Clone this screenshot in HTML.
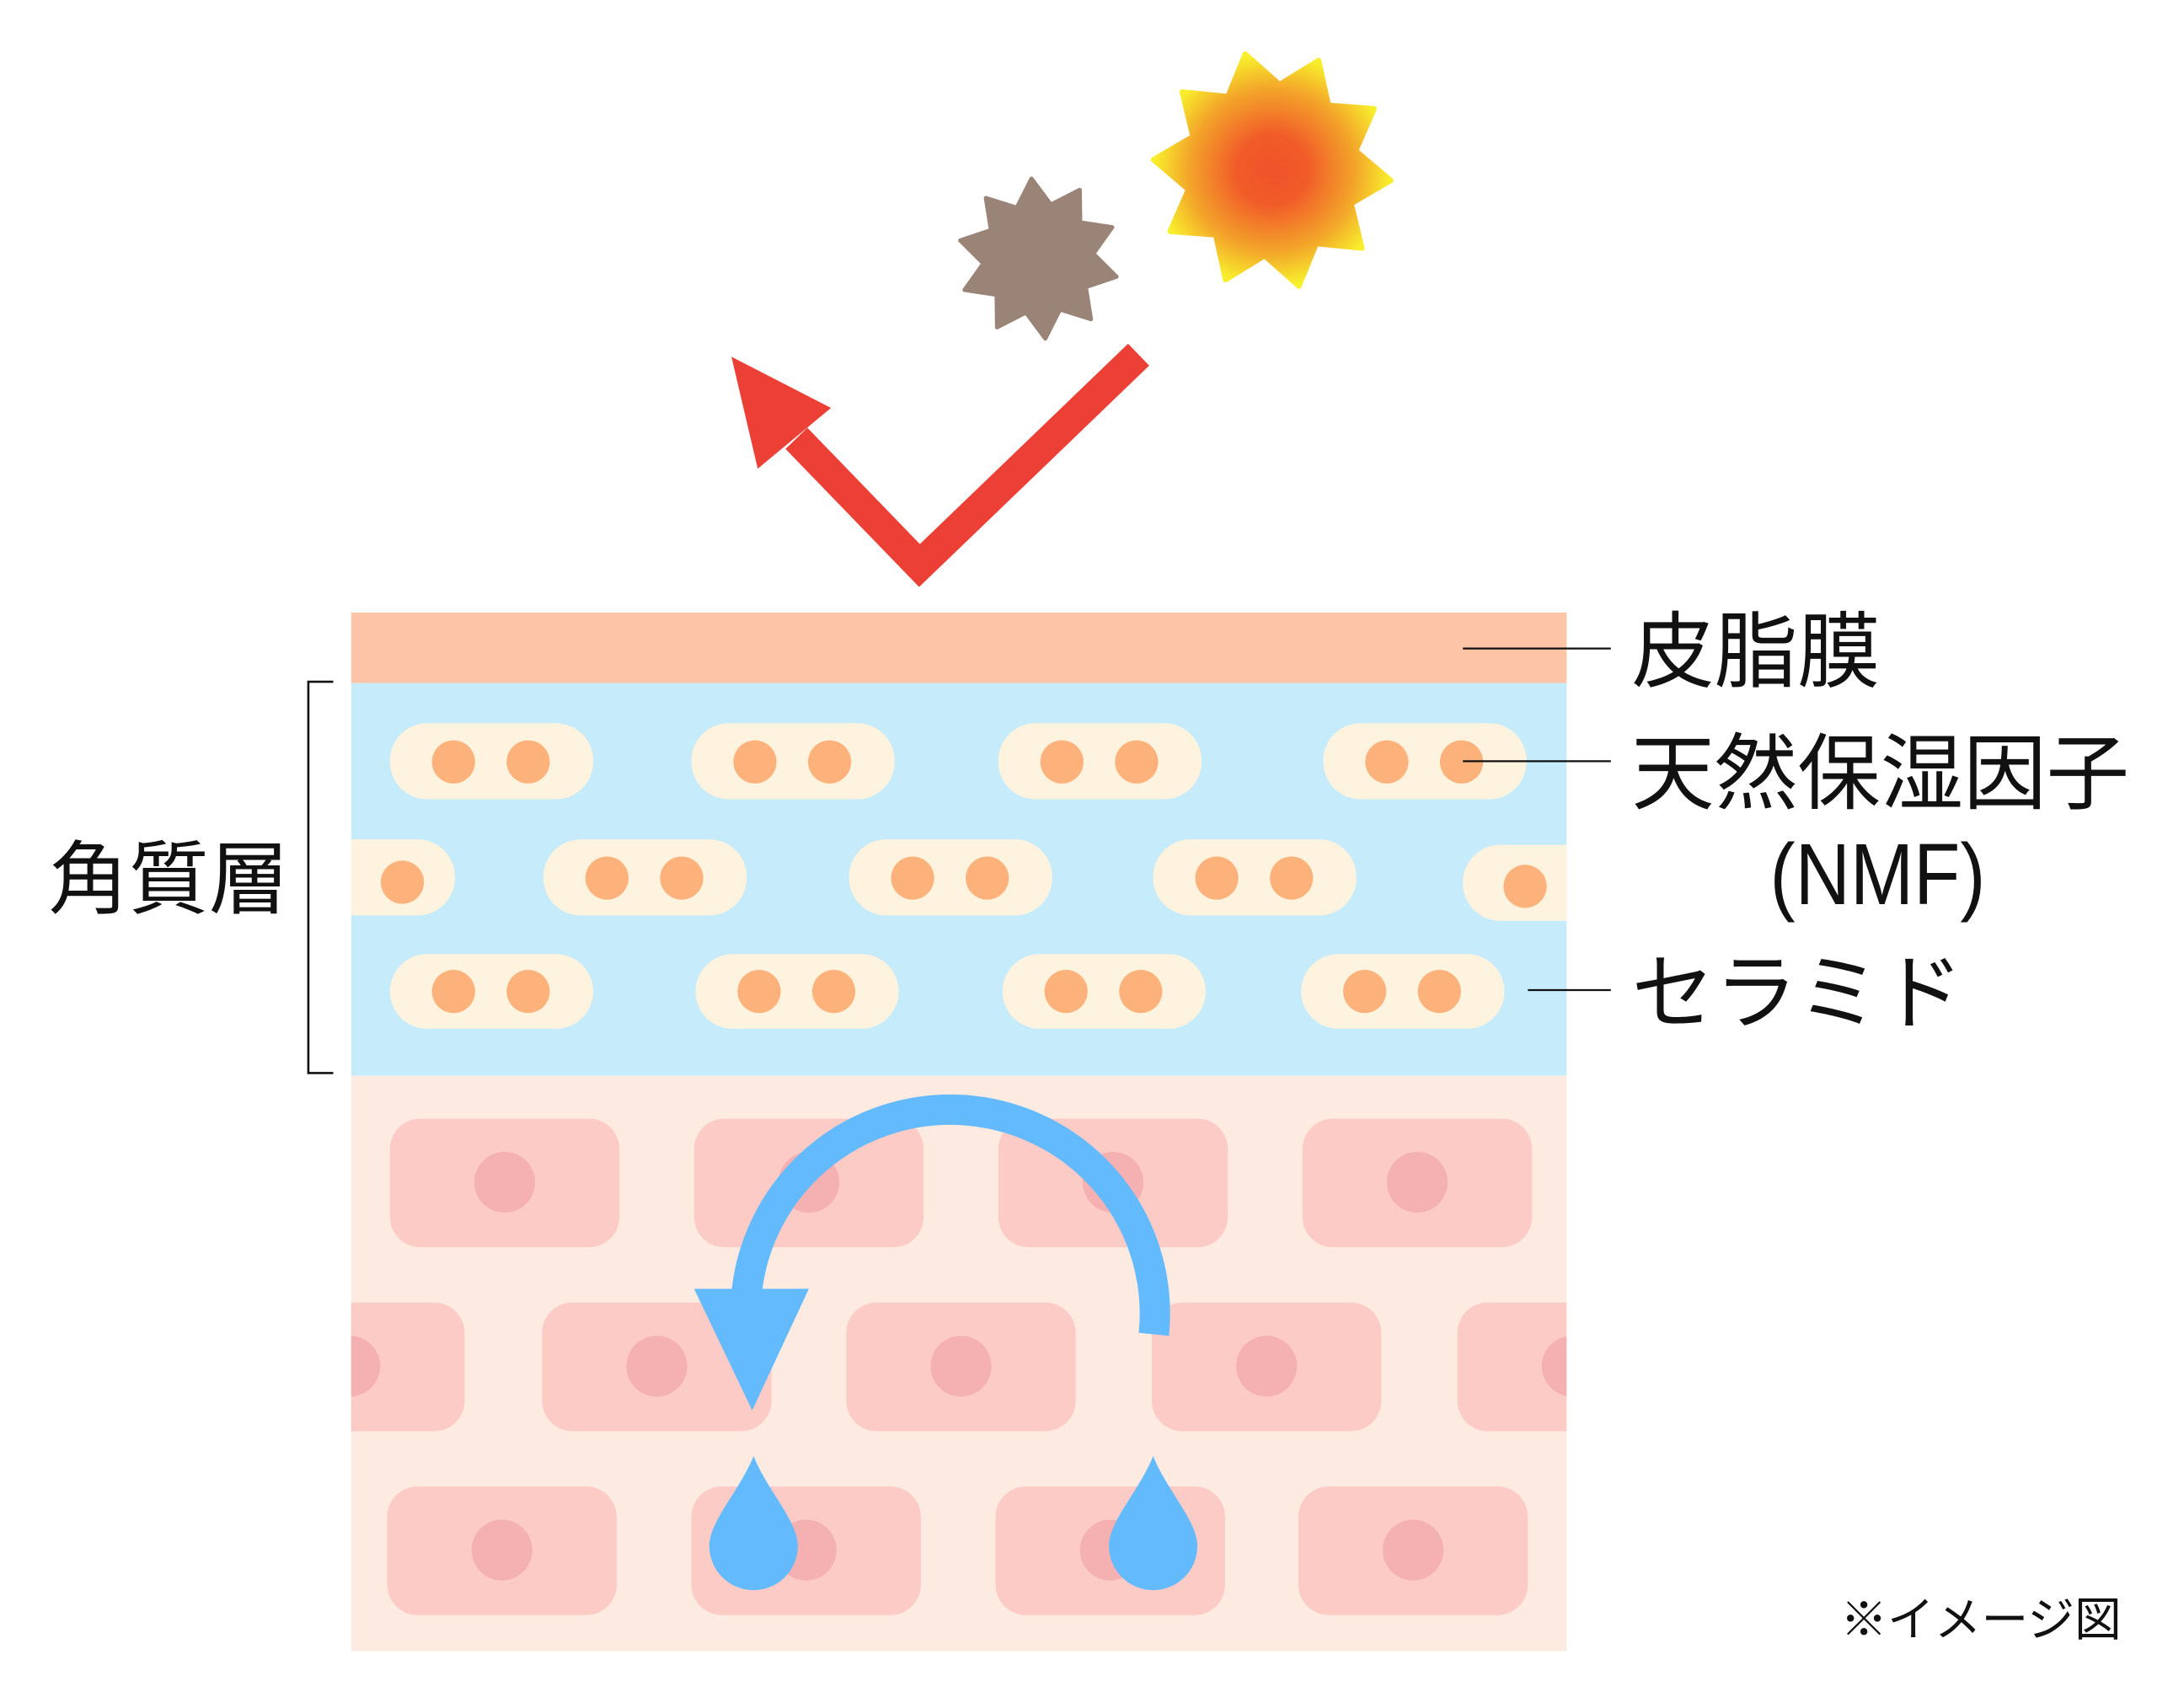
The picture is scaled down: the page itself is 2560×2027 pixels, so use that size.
<!DOCTYPE html>
<html><head><meta charset="utf-8"><style>
html,body{margin:0;padding:0;background:#fff;}
svg{display:block;}
text{font-family:"Liberation Sans","Noto Sans CJK JP",sans-serif;fill:#111;}
</style></head><body>
<svg width="2560" height="2027" viewBox="0 0 1560 1235.2" xmlns="http://www.w3.org/2000/svg">
<defs>
<radialGradient id="sun" cx="0.5" cy="0.5" r="0.5">
<stop offset="0" stop-color="#f0532a"/>
<stop offset="0.3" stop-color="#f15b29"/>
<stop offset="0.7" stop-color="#f3a42a"/>
<stop offset="1" stop-color="#f8ef2c"/>
</radialGradient>
<clipPath id="skin"><rect x="254" y="443" width="879" height="751"/></clipPath>
</defs>

<!-- sun -->
<polygon fill="url(#sun)" stroke="url(#sun)" stroke-width="4" stroke-linejoin="round" points="
900.6,39.2 925.4,61.2 953.6,43.8 960.7,76.2 993.7,78.7 980.4,109.1 1005.7,130.5 977.1,147.2 984.9,179.4 951.9,176.1 939.4,206.8 914.6,184.8 886.4,202.2 879.3,169.8 846.3,167.3 859.6,137.0 834.3,115.5 862.9,98.8 855.1,66.6 888.1,69.9"/>
<!-- brown -->
<polygon fill="#9a8377" stroke="#9a8377" stroke-width="3" stroke-linejoin="round" points="
746.0,129.2 760.0,148.0 780.9,137.3 781.2,160.8 804.4,164.3 790.8,183.5 807.5,200.1 785.3,207.6 789.0,230.8 766.6,223.8 756.0,244.8 742.0,226.0 721.1,236.7 720.8,213.2 697.6,209.7 711.2,190.5 694.5,173.9 716.7,166.4 713.0,143.2 735.4,150.2"/>

<!-- red arrow -->
<polyline points="823.5,256.5 665,409 576,317" fill="none" stroke="#ec4037" stroke-width="22" stroke-linejoin="miter"/>
<polygon points="529,258 601,295 548,339" fill="#ec4037"/>

<!-- layers -->
<rect x="254" y="443" width="879" height="51" fill="#fdc4a8"/>
<rect x="254" y="494" width="879" height="284" fill="#c6ebfb"/>
<rect x="254" y="778" width="879" height="416" fill="#fdebe2"/>

<g clip-path="url(#skin)">
<g fill="#fef3de">
<rect x="282" y="523" width="147" height="55" rx="27"/>
<rect x="500" y="523" width="147" height="55" rx="27"/>
<rect x="722" y="523" width="147" height="55" rx="27"/>
<rect x="957" y="523" width="147" height="55" rx="27"/>
<rect x="182" y="607" width="147" height="55" rx="27"/>
<rect x="393" y="607" width="147" height="55" rx="27"/>
<rect x="614" y="607" width="147" height="55" rx="27"/>
<rect x="834" y="607" width="147" height="55" rx="27"/>
<rect x="1058" y="611" width="147" height="55" rx="27"/>
<rect x="282" y="690" width="147" height="54" rx="27"/>
<rect x="503" y="690" width="147" height="54" rx="27"/>
<rect x="725" y="690" width="147" height="54" rx="27"/>
<rect x="941" y="690" width="147" height="54" rx="27"/>
</g>
<g fill="#fdb27b">
<circle cx="328" cy="551" r="15.6"/><circle cx="382" cy="551" r="15.6"/>
<circle cx="546" cy="551" r="15.6"/><circle cx="600" cy="551" r="15.6"/>
<circle cx="768" cy="551" r="15.6"/><circle cx="822" cy="551" r="15.6"/>
<circle cx="1003" cy="551" r="15.6"/><circle cx="1057" cy="551" r="15.6"/>
<circle cx="291" cy="638" r="15.6"/>
<circle cx="439" cy="635" r="15.6"/><circle cx="493" cy="635" r="15.6"/>
<circle cx="660" cy="635" r="15.6"/><circle cx="714" cy="635" r="15.6"/>
<circle cx="880" cy="635" r="15.6"/><circle cx="934" cy="635" r="15.6"/>
<circle cx="1103" cy="641" r="15.6"/>
<circle cx="328" cy="717" r="15.6"/><circle cx="382" cy="717" r="15.6"/>
<circle cx="549" cy="717" r="15.6"/><circle cx="603" cy="717" r="15.6"/>
<circle cx="771" cy="717" r="15.6"/><circle cx="825" cy="717" r="15.6"/>
<circle cx="987" cy="717" r="15.6"/><circle cx="1041" cy="717" r="15.6"/>
</g>

<g fill="#fdcbc6">
<rect x="282" y="809" width="166" height="93" rx="22"/>
<rect x="502" y="809" width="166" height="93" rx="22"/>
<rect x="722" y="809" width="166" height="93" rx="22"/>
<rect x="942" y="809" width="166" height="93" rx="22"/>
<rect x="170" y="942" width="166" height="93" rx="22"/>
<rect x="392" y="942" width="166" height="93" rx="22"/>
<rect x="612" y="942" width="166" height="93" rx="22"/>
<rect x="833" y="942" width="166" height="93" rx="22"/>
<rect x="1054" y="942" width="166" height="93" rx="22"/>
<rect x="280" y="1075" width="166" height="93" rx="22"/>
<rect x="500" y="1075" width="166" height="93" rx="22"/>
<rect x="720" y="1075" width="166" height="93" rx="22"/>
<rect x="939" y="1075" width="166" height="93" rx="22"/>
</g>
<g fill="#f5b0b2">
<circle cx="365" cy="855" r="22"/><circle cx="585" cy="855" r="22"/>
<circle cx="805" cy="855" r="22"/><circle cx="1025" cy="855" r="22"/>
<circle cx="253" cy="988" r="22"/><circle cx="475" cy="988" r="22"/>
<circle cx="695" cy="988" r="22"/><circle cx="916" cy="988" r="22"/>
<circle cx="1137" cy="988" r="22"/>
<circle cx="363" cy="1121" r="22"/><circle cx="583" cy="1121" r="22"/>
<circle cx="803" cy="1121" r="22"/><circle cx="1022" cy="1121" r="22"/>
</g>
</g>

<path d="M834.5,965 A147.5,147 0 0 0 540,935" fill="none" stroke="#63bbfd" stroke-width="22"/>
<polygon points="502,932 585,932 544,1020" fill="#63bbfd"/>
<path d="M545,1053 C535,1078 513,1100 513,1118 A32,32 0 0 0 577,1118 C577,1100 555,1078 545,1053 Z" fill="#63bbfd"/>
<path d="M834,1053 C824,1078 802,1100 802,1118 A32,32 0 0 0 866,1118 C866,1100 844,1078 834,1053 Z" fill="#63bbfd"/>

<polyline points="241,493 223,493 223,776 241,776" fill="none" stroke="#111" stroke-width="1.6"/>

<g stroke="#111" stroke-width="1.4">
<line x1="1058" y1="469" x2="1165" y2="469"/>
<line x1="1058" y1="550.5" x2="1165" y2="550.5"/>
<line x1="1105" y1="716" x2="1165" y2="716"/>
</g>

<text x="1180" y="492" font-size="60">皮脂膜</text>
<text x="1180" y="580" font-size="60">天然保湿因子</text>
<text x="1280" y="654" font-size="63" textLength="156" lengthAdjust="spacingAndGlyphs">(NMF)</text>
<text x="1180" y="739" font-size="60">セラミド</text>
<text x="35" y="656" font-size="58">角質層</text>
<text x="1331" y="1183" font-size="34">※イメージ図</text>
</svg>
</body></html>
